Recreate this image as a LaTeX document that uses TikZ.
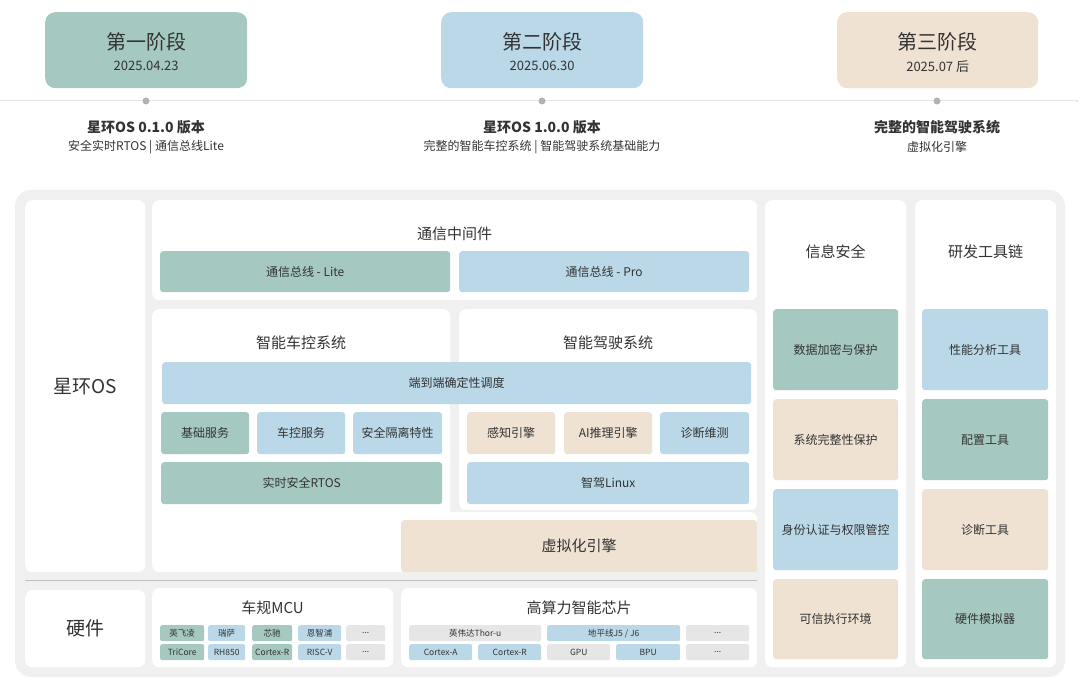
\documentclass[tikz,border=0pt]{standalone}
\usepackage{fontspec}
\setmainfont{Noto Sans CJK SC}
\usetikzlibrary{arrows.meta}
\definecolor{cgreen}{HTML}{A5C8C0}
\definecolor{cblue}{HTML}{BAD8E8}
\definecolor{cbeige}{HTML}{EFE2D2}
\definecolor{cback}{HTML}{F0F0F0}
\definecolor{cchip}{HTML}{E6E6E6}
\definecolor{ctext}{HTML}{333333}
\newcommand{\blk}[7]{\node[#6, anchor=north west, minimum width=#4pt-#2pt, minimum height=#5pt-#3pt] (#1) at (#2,#3) {#7};}
\begin{document}
\begin{tikzpicture}[x=1pt,y=-1pt, every node/.style={text=ctext, inner sep=0pt},
  card/.style={fill=white, rounded corners=7pt},
  bar/.style={rounded corners=3pt, font=\fontsize{12}{14}\selectfont},
  chip/.style={rounded corners=2pt, font=\fontsize{8.5}{10}\selectfont},
  phase/.style={rounded corners=10pt, align=center}]
\useasboundingbox (0,0) rectangle (1080,692);
% timeline
\draw[cchip, line width=1pt, -{Latex[length=4pt]}] (0,101) -- (1080,101);
\foreach \px/\nm in {146/da,542/db,937/dc}
  \fill[gray!60] (\px,101) circle (3.5pt) coordinate (\nm);
\blk{pa}{45}{12}{247}{88}{phase, fill=cgreen}{}
\blk{pb}{441}{12}{643}{88}{phase, fill=cblue}{}
\blk{pc}{837}{12}{1038}{88}{phase, fill=cbeige}{}
\foreach \nm/\t/\d in {pa/第一阶段/2025.04.23, pb/第二阶段/2025.06.30, pc/第三阶段/2025.07 后}{
  \node[font=\fontsize{20}{24}\selectfont] at ([yshift=8pt]\nm.center) {\t};
  \node[font=\fontsize{13}{15}\selectfont] at ([yshift=-16pt]\nm.center) {\d};}
\node[font=\bfseries\fontsize{14}{16}\selectfont] (va) at (146,127) {星环OS 0.1.0 版本};
\node[font=\fontsize{12}{14}\selectfont] (sa) at (146,147) {安全实时RTOS | 通信总线Lite};
\node[font=\bfseries\fontsize{14}{16}\selectfont] (vb) at (542,127) {星环OS 1.0.0 版本};
\node[font=\fontsize{12}{14}\selectfont] (sb) at (542,147) {完整的智能车控系统 | 智能驾驶系统基础能力};
\node[font=\bfseries\fontsize{14}{16}\selectfont] (vc) at (937,127) {完整的智能驾驶系统};
\node[font=\fontsize{12}{14}\selectfont] (sc) at (937,147) {虚拟化引擎};
% architecture
\fill[cback, rounded corners=16pt] (15,190) rectangle (1065,677);
\blk{os}{25}{200}{145}{572}{card, font=\fontsize{19}{22}\selectfont}{星环OS}
\blk{hw}{25}{590}{145}{667}{card, font=\fontsize{19}{22}\selectfont}{硬件}
\draw[gray!50, line width=0.8pt] (25,580) -- (757,580);
\blk{mid}{152}{200}{757}{300}{card}{}
\node[font=\fontsize{15}{18}\selectfont] at (454.5,234) {通信中间件};
\blk{busl}{160}{251}{450}{292}{bar, fill=cgreen}{通信总线 - Lite}
\blk{busp}{459}{251}{749}{292}{bar, fill=cblue}{通信总线 - Pro}
\blk{vcs}{152}{309}{450}{572}{card}{}
\blk{vrt}{393}{512}{757}{572}{card}{}
\blk{ads}{459}{309}{757}{510}{card}{}
\node[font=\fontsize{15}{18}\selectfont] at (301,343) {智能车控系统};
\node[font=\fontsize{15}{18}\selectfont] at (608,343) {智能驾驶系统};
\blk{sched}{162}{362}{751}{404}{bar, fill=cblue}{端到端确定性调度}
\blk{jc}{161}{412}{249}{454}{bar, fill=cgreen}{基础服务}
\blk{ck}{257}{412}{345}{454}{bar, fill=cblue}{车控服务}
\blk{gl}{353}{412}{442}{454}{bar, fill=cblue}{安全隔离特性}
\blk{gz}{467}{412}{555}{454}{bar, fill=cbeige}{感知引擎}
\blk{ai}{564}{412}{652}{454}{bar, fill=cbeige}{AI推理引擎}
\blk{zd}{660}{412}{749}{454}{bar, fill=cblue}{诊断维测}
\blk{rtos}{161}{462}{442}{504}{bar, fill=cgreen}{实时安全RTOS}
\blk{lnx}{467}{462}{749}{504}{bar, fill=cblue}{智驾Linux}
\blk{virt}{401}{520}{757}{572}{bar, fill=cbeige, font=\fontsize{15}{18}\selectfont}{虚拟化引擎}
% right columns
\blk{sec}{765}{200}{906}{667}{card}{}
\blk{tool}{915}{200}{1056}{667}{card}{}
\node[font=\fontsize{15}{18}\selectfont] at (835.5,252) {信息安全};
\node[font=\fontsize{15}{18}\selectfont] at (985.5,252) {研发工具链};
\blk{s1}{773}{309}{898}{390}{bar, fill=cgreen}{数据加密与保护}
\blk{s2}{773}{399}{898}{480}{bar, fill=cbeige}{系统完整性保护}
\blk{s3}{773}{489}{898}{570}{bar, fill=cblue}{身份认证与权限管控}
\blk{s4}{773}{579}{898}{659}{bar, fill=cbeige}{可信执行环境}
\blk{t1}{922}{309}{1048}{390}{bar, fill=cblue}{性能分析工具}
\blk{t2}{922}{399}{1048}{480}{bar, fill=cgreen}{配置工具}
\blk{t3}{922}{489}{1048}{570}{bar, fill=cbeige}{诊断工具}
\blk{t4}{922}{579}{1048}{659}{bar, fill=cgreen}{硬件模拟器}
% hardware
\blk{mcu}{152}{588}{393}{667}{card}{}
\blk{soc}{401}{588}{757}{667}{card}{}
\node[font=\fontsize{15}{18}\selectfont] at (272.5,608) {车规MCU};
\node[font=\fontsize{15}{18}\selectfont] at (579,608) {高算力智能芯片};
\blk{m1}{160}{625}{204}{641}{chip, fill=cgreen}{英飞凌}
\blk{m2}{208}{625}{245}{641}{chip, fill=cblue}{瑞萨}
\blk{m3}{252}{625}{292}{641}{chip, fill=cgreen}{芯驰}
\blk{m4}{298}{625}{341}{641}{chip, fill=cblue}{恩智浦}
\blk{m5}{346}{625}{385}{641}{chip, fill=cchip}{...}
\blk{n1}{160}{644}{204}{660}{chip, fill=cgreen}{TriCore}
\blk{n2}{208}{644}{245}{660}{chip, fill=cblue}{RH850}
\blk{n3}{252}{644}{292}{660}{chip, fill=cgreen}{Cortex-R}
\blk{n4}{298}{644}{341}{660}{chip, fill=cblue}{RISC-V}
\blk{n5}{346}{644}{385}{660}{chip, fill=cchip}{...}
\blk{c1}{409}{625}{541}{641}{chip, fill=cchip}{英伟达Thor-u}
\blk{c2}{547}{625}{680}{641}{chip, fill=cblue}{地平线J5 / J6}
\blk{c3}{686}{625}{749}{641}{chip, fill=cchip}{...}
\blk{d1}{409}{644}{472}{660}{chip, fill=cblue}{Cortex-A}
\blk{d2}{478}{644}{541}{660}{chip, fill=cblue}{Cortex-R}
\blk{d3}{547}{644}{610}{660}{chip, fill=cchip}{GPU}
\blk{d4}{616}{644}{680}{660}{chip, fill=cblue}{BPU}
\blk{d5}{686}{644}{749}{660}{chip, fill=cchip}{...}
\end{tikzpicture}
\end{document}
